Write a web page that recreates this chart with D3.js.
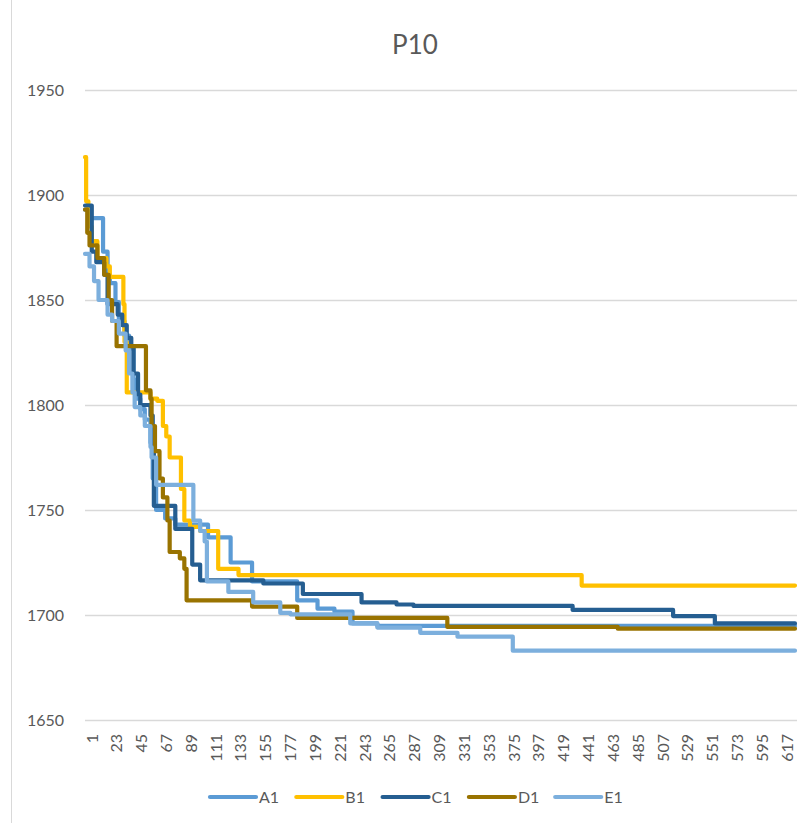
<!DOCTYPE html>
<html>
<head>
<meta charset="utf-8">
<script src="https://cdn.jsdelivr.net/npm/d3@7"></script>
<style>
  html, body { margin: 0; padding: 0; background: #ffffff; }
  svg { display: block; }
</style>
</head>
<body>
<svg id="chart" width="811" height="823"></svg>
<script>
// ---------------- data ----------------
const title = "P10";
const iterationCount = 630;
const xTickLabels = [1, 23, 45, 67, 89, 111, 133, 155, 177, 199, 221, 243, 265, 287, 309,
  331, 353, 375, 397, 419, 441, 463, 485, 507, 529, 551, 573, 595, 617];
const yTickLabels = [1650, 1700, 1750, 1800, 1850, 1900, 1950];
const seriesNames = ["A1", "B1", "C1", "D1", "E1"];

// step change points: iteration where the value changes, and the new value
const a1Iter = [1, 4, 17, 21, 23, 28, 31, 36, 40, 44, 46, 50, 54, 59, 61, 64, 72, 81, 110, 130, 149, 189, 207, 222, 238, 260, 630];
const a1Val  = [1893, 1889, 1873, 1862, 1858, 1849, 1840, 1833, 1827, 1812, 1803, 1798, 1793, 1782, 1765, 1750, 1746, 1743, 1737, 1725, 1716, 1707, 1703, 1701.6, 1696, 1694.8, 1694.8];

const b1Iter = [1, 2, 4, 7, 12, 20, 23, 35, 36, 38, 59, 65, 70, 73, 76, 86, 89, 94, 103, 119, 137, 441, 630];
const b1Val  = [1918, 1897, 1885, 1878, 1870, 1866, 1861, 1848, 1830, 1806, 1803, 1802, 1790, 1785, 1775, 1760, 1745, 1742, 1740, 1722, 1719, 1714, 1714];

const c1Iter = [1, 7, 11, 18, 21, 30, 34, 38, 42, 44, 48, 50, 59, 61, 62, 81, 96, 103, 159, 194, 246, 277, 292, 433, 522, 559, 630];
const c1Val  = [1895, 1873, 1868, 1862, 1848, 1843, 1838, 1832, 1828, 1815, 1805, 1800, 1795, 1780, 1752, 1741, 1724, 1716.5, 1715, 1710, 1706, 1705, 1704.3, 1702.4, 1699.5, 1696, 1696];

const d1Iter = [1, 3, 5, 12, 18, 22, 25, 29, 55, 59, 60, 63, 67, 70, 74, 76, 85, 89, 91, 149, 189, 322, 473, 630];
const d1Val  = [1893, 1882, 1876, 1870, 1862, 1850, 1840, 1828, 1807, 1803, 1790, 1778, 1765, 1756, 1745, 1730, 1727, 1722, 1707, 1704, 1698.6, 1694.3, 1693.5, 1693.5];

const e1Iter = [1, 5, 9, 13, 21, 25, 31, 37, 40, 43, 45, 50, 54, 59, 60, 64, 97, 103, 107, 109, 128, 150, 174, 183, 236, 260, 298, 331, 380, 630];
const e1Val  = [1872, 1866, 1859, 1850, 1843, 1840, 1834, 1826, 1815, 1806, 1799, 1795, 1790, 1780, 1775, 1762, 1745, 1740, 1735, 1716, 1711, 1706, 1701, 1700.3, 1696, 1694, 1691.5, 1689.7, 1683, 1683];

// ---------------- styles ----------------
const seriesColors = ["#5B9BD5", "#FFC000", "#255E91", "#997300", "#7CAFDD"];
const textColor = "#595959";
const gridColor = "#d9d9d9";
const fontFamily = "Lato, 'Open Sans', sans-serif";

const seriesIters = [a1Iter, b1Iter, c1Iter, d1Iter, e1Iter];
const seriesVals = [a1Val, b1Val, c1Val, d1Val, e1Val];
const series = seriesNames.map((name, k) => ({
  name,
  color: seriesColors[k],
  points: seriesIters[k].map((it, j) => ({ it, v: seriesVals[k][j] }))
}));

// ---------------- chart ----------------
const svg = d3.select("#chart");
svg.append("rect").attr("width", 811).attr("height", 823).attr("fill", "#ffffff");

// thin frame line at the left edge
svg.append("line")
  .attr("x1", 11.5).attr("x2", 11.5).attr("y1", 0).attr("y2", 823)
  .attr("stroke", gridColor).attr("stroke-width", 1);

const x = d3.scaleLinear().domain([1, iterationCount]).range([85, 795]);
const y = d3.scaleLinear().domain([1650, 1950]).range([720, 90]);

// title
svg.append("text")
  .attr("x", 415).attr("y", 54)
  .attr("text-anchor", "middle")
  .attr("font-family", fontFamily)
  .attr("font-size", 26)
  .attr("fill", textColor)
  .text(title);

// gridlines
svg.append("g")
  .selectAll("line")
  .data(yTickLabels)
  .join("line")
  .attr("x1", 85).attr("x2", 797)
  .attr("y1", d => Math.round(y(d)) + 0.5)
  .attr("y2", d => Math.round(y(d)) + 0.5)
  .attr("stroke", gridColor)
  .attr("stroke-width", 1.3);

// y axis labels
const yAxis = svg.append("g")
  .attr("transform", "translate(85,0)")
  .call(d3.axisLeft(y).tickValues(yTickLabels).tickSize(0).tickPadding(21).tickFormat(d3.format("d")));
yAxis.select(".domain").remove();
yAxis.selectAll("text")
  .attr("font-family", fontFamily)
  .attr("font-size", 16)
  .attr("fill", textColor);

// x axis labels (rotated)
const xAxis = svg.append("g")
  .attr("transform", "translate(0,720)")
  .call(d3.axisBottom(x).tickValues(xTickLabels).tickSize(0).tickFormat(d3.format("d")));
xAxis.select(".domain").remove();
xAxis.selectAll("text")
  .attr("transform", "rotate(-90)")
  .attr("text-anchor", "end")
  .attr("x", -14)
  .attr("y", 12)
  .attr("dy", 0)
  .attr("font-family", fontFamily)
  .attr("font-size", 16)
  .attr("fill", textColor);

// lines
const line = d3.line()
  .x(d => x(d.it))
  .y(d => y(d.v))
  .curve(d3.curveStepAfter);

svg.append("g")
  .selectAll("path")
  .data(series)
  .join("path")
  .attr("d", d => line(d.points))
  .attr("fill", "none")
  .attr("stroke", d => d.color)
  .attr("stroke-width", 4.2)
  .attr("stroke-linejoin", "round")
  .attr("stroke-linecap", "round");

// legend
const legend = svg.append("g").attr("transform", "translate(210,797)");
const item = legend.selectAll("g")
  .data(series)
  .join("g")
  .attr("transform", (d, i) => `translate(${i * 86.3},0)`);
item.append("line")
  .attr("x1", 0).attr("x2", 46).attr("y1", 0).attr("y2", 0)
  .attr("stroke", d => d.color)
  .attr("stroke-width", 4.2)
  .attr("stroke-linecap", "round");
item.append("text")
  .attr("x", 49).attr("y", 0).attr("dy", "0.36em")
  .attr("font-family", fontFamily)
  .attr("font-size", 16)
  .attr("fill", textColor)
  .text(d => d.name);
</script>
</body>
</html>
